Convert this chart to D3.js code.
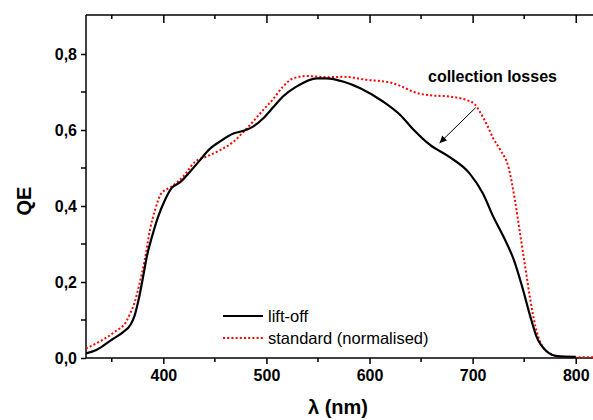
<!DOCTYPE html>
<html>
<head>
<meta charset="utf-8">
<script src="https://cdn.jsdelivr.net/npm/d3@7"></script>
<style>
  body { margin: 0; background: #fff; }
  svg { display: block; font-family: "Liberation Sans", Arial, sans-serif; }
  .axis path, .axis line { stroke: #000; stroke-width: 1.5; }
  .axis text { font-size: 16px; font-weight: bold; fill: #000; }
</style>
</head>
<body>
<div id="wrapper"></div>
<script>
// lift-off sample (black solid)
const liftOffWavelength = [325, 335, 351, 361, 368, 372, 376, 381, 384, 389, 395, 401.6, 408, 416, 429, 436, 443, 455, 468, 478, 487, 497, 507, 516, 529, 549, 558, 575, 591, 613, 630, 643, 659, 677, 697, 710, 720, 730, 740, 748, 756, 762, 772, 782, 800];
const liftOffQE = [0.012, 0.021, 0.05, 0.068, 0.087, 0.11, 0.153, 0.223, 0.267, 0.319, 0.372, 0.416, 0.447, 0.462, 0.50, 0.522, 0.545, 0.57, 0.591, 0.598, 0.609, 0.631, 0.661, 0.688, 0.714, 0.736, 0.736, 0.727, 0.71, 0.675, 0.639, 0.60, 0.56, 0.53, 0.486, 0.433, 0.372, 0.319, 0.258, 0.188, 0.109, 0.056, 0.017, 0.005, 0.003];

// standard sample, normalised (red dotted)
const standardWavelength = [325, 338, 353, 364, 368, 372, 377, 382, 387, 392, 398, 408, 419, 431, 442, 455, 468, 478, 487, 497, 507, 516, 526, 539, 558, 575, 597, 620, 630, 643, 656, 677, 694, 702, 707, 714, 720, 727, 735, 741, 746, 751, 756, 761, 767, 775, 785, 800, 825];
const standardQE = [0.025, 0.043, 0.069, 0.096, 0.118, 0.145, 0.197, 0.258, 0.337, 0.39, 0.433, 0.451, 0.477, 0.517, 0.53, 0.547, 0.569, 0.596, 0.622, 0.653, 0.683, 0.714, 0.736, 0.742, 0.739, 0.74, 0.732, 0.725, 0.716, 0.70, 0.692, 0.688, 0.679, 0.668, 0.648, 0.613, 0.578, 0.547, 0.50, 0.416, 0.328, 0.24, 0.153, 0.082, 0.034, 0.012, 0.003, 0.002, 0.002];

const xMajorTicks = [400, 500, 600, 700, 800];
const xMinorTicks = [350, 450, 550, 650, 750];
const yMajorTicks = [0, 0.2, 0.4, 0.6, 0.8];
const yMinorTicks = [0.1, 0.3, 0.5, 0.7];

const seriesNames = ["lift-off", "standard (normalised)"];

//* dimensions
const width = 593;
const height = 420;
const plot = { left: 86, right: 601.5, top: 16, bottom: 358 };

const svg = d3.select("#wrapper")
  .append("svg")
  .attr("width", width)
  .attr("height", height);

//* scales
const xScale = d3.scaleLinear().domain([325, 825]).range([plot.left, plot.right]);
const yScale = d3.scaleLinear().domain([0, 0.9]).range([plot.bottom, plot.top]);

const fmtY = (d) => d3.format(".1f")(d).replace(".", ",");

//* axes
const bottomAxis = svg.append("g")
  .attr("class", "axis")
  .attr("transform", `translate(0,${plot.bottom})`)
  .call(d3.axisBottom(xScale).tickValues(xMajorTicks).tickSize(6).tickSizeOuter(0).tickPadding(6));
bottomAxis.select(".domain").attr("d", `M${plot.left},0H${width}`);
bottomAxis.selectAll(".minor").data(xMinorTicks).join("line")
  .attr("class", "minor")
  .attr("x1", xScale).attr("x2", xScale)
  .attr("y1", 0).attr("y2", 4)
  .attr("stroke", "#000").attr("stroke-width", 1.5);

const topAxis = svg.append("g")
  .attr("class", "axis")
  .attr("transform", `translate(0,${plot.top - 1})`)
  .call(d3.axisTop(xScale).tickValues(xMajorTicks).tickSize(-8).tickSizeOuter(0).tickFormat(""));
topAxis.select(".domain").attr("d", `M${plot.left},0H${width}`);
topAxis.selectAll(".minor").data(xMinorTicks).join("line")
  .attr("class", "minor")
  .attr("x1", xScale).attr("x2", xScale)
  .attr("y1", 0).attr("y2", 4)
  .attr("stroke", "#000").attr("stroke-width", 1.5);

const leftAxis = svg.append("g")
  .attr("class", "axis")
  .attr("transform", `translate(${plot.left},0)`)
  .call(d3.axisLeft(yScale).tickValues(yMajorTicks).tickFormat(fmtY).tickSize(5).tickSizeOuter(0).tickPadding(4));
leftAxis.select(".domain").attr("d", `M0,${plot.bottom}V${plot.top - 1}`);
leftAxis.selectAll(".minor").data(yMinorTicks).join("line")
  .attr("class", "minor")
  .attr("y1", yScale).attr("y2", yScale)
  .attr("x1", 0).attr("x2", -5)
  .attr("stroke", "#000").attr("stroke-width", 1.5);

//* axis titles
svg.append("text")
  .attr("transform", `translate(31,${(plot.top + plot.bottom) / 2 + 14}) rotate(-90)`)
  .attr("text-anchor", "middle")
  .style("font-size", "20px")
  .style("font-weight", "bold")
  .text("QE");

svg.append("text")
  .attr("x", 338)
  .attr("y", 414)
  .attr("text-anchor", "middle")
  .style("font-size", "20px")
  .style("font-weight", "bold")
  .text("λ (nm)");

//* lines
svg.append("clipPath").attr("id", "clip")
  .append("rect")
  .attr("x", plot.left).attr("y", plot.top - 5)
  .attr("width", width - plot.left).attr("height", plot.bottom - plot.top + 5);

const lineGen = d3.line()
  .x((d) => xScale(d[0]))
  .y((d) => yScale(d[1]))
  .curve(d3.curveMonotoneX);

const liftOff = d3.zip(liftOffWavelength, liftOffQE);
const standard = d3.zip(standardWavelength, standardQE);

svg.append("path")
  .attr("clip-path", "url(#clip)")
  .attr("d", lineGen(standard))
  .attr("fill", "none")
  .attr("stroke", "#ff0000")
  .attr("stroke-width", 2)
  .attr("stroke-dasharray", "2,2.2");

svg.append("path")
  .attr("clip-path", "url(#clip)")
  .attr("d", lineGen(liftOff))
  .attr("fill", "none")
  .attr("stroke", "#000")
  .attr("stroke-width", 2.2);

//* legend
const legend = svg.append("g").attr("transform", "translate(223,316)");
const legendStyles = [
  { stroke: "#000", dash: null },
  { stroke: "#ff0000", dash: "2,2.2" },
];
seriesNames.forEach((name, i) => {
  const row = legend.append("g").attr("transform", `translate(0,${i * 22})`);
  row.append("line")
    .attr("x1", 0).attr("x2", 40)
    .attr("stroke", legendStyles[i].stroke)
    .attr("stroke-width", 2)
    .attr("stroke-dasharray", legendStyles[i].dash);
  row.append("text")
    .attr("x", 45)
    .attr("y", 6)
    .style("font-size", "16.5px")
    .text(name);
});

//* annotation
svg.append("defs").append("marker")
  .attr("id", "arrow")
  .attr("viewBox", "0 0 10 10")
  .attr("refX", 10).attr("refY", 5)
  .attr("markerWidth", 9).attr("markerHeight", 7)
  .attr("markerUnits", "userSpaceOnUse")
  .attr("orient", "auto")
  .append("path")
  .attr("d", "M0,0L10,5L0,10Z")
  .attr("fill", "#000");

svg.append("text")
  .attr("x", 428)
  .attr("y", 82)
  .style("font-size", "16px")
  .style("font-weight", "bold")
  .text("collection losses");

svg.append("line")
  .attr("x1", xScale(703)).attr("y1", yScale(0.659))
  .attr("x2", xScale(668)).attr("y2", yScale(0.566))
  .attr("stroke", "#000")
  .attr("stroke-width", 1)
  .attr("marker-end", "url(#arrow)");
</script>
</body>
</html>
